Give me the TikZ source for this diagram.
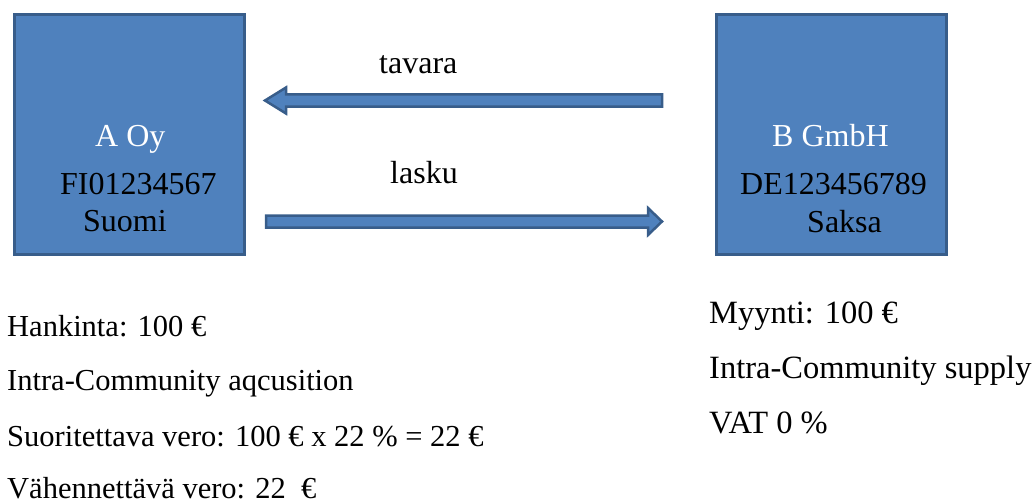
\documentclass[tikz,border=0pt]{standalone}
\usepackage{fontspec}
\setmainfont{Liberation Serif}
\usetikzlibrary{calc}
\definecolor{boxfill}{HTML}{4F81BD}
\definecolor{boxline}{HTML}{385D8A}
\begin{document}
\begin{tikzpicture}[x=1pt,y=-1pt,
  company/.style={draw=boxline,fill=boxfill,line width=3pt,minimum width=230pt,minimum height=240pt,inner sep=0pt},
  blockarrow/.style={draw=boxline,fill=boxfill,line width=2.5pt,line join=miter},
  boxtext/.style={anchor=base west,inner sep=0pt,font=\fontsize{32}{38}\selectfont},
  note/.style={anchor=base west,inner sep=0pt,font=\fontsize{30.5}{36}\selectfont},
  sidenote/.style={anchor=base west,inner sep=0pt,font=\fontsize{32.5}{38}\selectfont}]
\useasboundingbox (0,0) rectangle (1034,503);

% the two companies
\node[company] (A) at (129.5,134.5) {};
\node[company] (B) at (831.5,134.5) {};

\node[boxtext,text=white] (aname) at (95,146) {A Oy};
\node[boxtext] (aid) at (60,194) {FI01234567};
\node[boxtext] (acountry) at (83,231) {Suomi};

\node[boxtext,text=white] (bname) at (772,146) {B GmbH};
\node[boxtext] (bid) at (740,194) {DE123456789};
\node[boxtext] (bcountry) at (807,232) {Saksa};

% goods flow from B to A
\coordinate (gtail) at (662,100.5);
\coordinate (gtip) at (265,100.5);
\draw[blockarrow] ($(gtail)+(0,-6)$) -- (286,94.5) -- (286,87.5) -- (gtip) -- (286,113.5) -- (286,106.5) -- ($(gtail)+(0,6)$) -- cycle;
\node[boxtext] (goods) at (379,74) {tavara};

% invoice from A to B
\coordinate (itail) at (266,221.5);
\coordinate (itip) at (662,221.5);
\draw[blockarrow] ($(itail)+(0,-6)$) -- (648,215.5) -- (648,208) -- (itip) -- (648,235) -- (648,227.5) -- ($(itail)+(0,6)$) -- cycle;
\node[boxtext] (invoice) at (390,183) {lasku};

% buyer side
\node[note] (l1) at (7,336) {Hankinta: 100 €};
\node[note] (l2) at (7,390) {Intra-Community aqcusition};
\node[note] (l3) at (7,446) {Suoritettava vero: 100 € x 22 \% = 22 €};
\node[note] (l4) at (7,498) {Vähennettävä vero: 22~~€};

% seller side
\node[sidenote] (r1) at (709,323) {Myynti: 100 €};
\node[sidenote] (r2) at (709,378) {Intra-Community supply};
\node[sidenote] (r3) at (709,433) {VAT 0 \%};
\end{tikzpicture}
\end{document}
